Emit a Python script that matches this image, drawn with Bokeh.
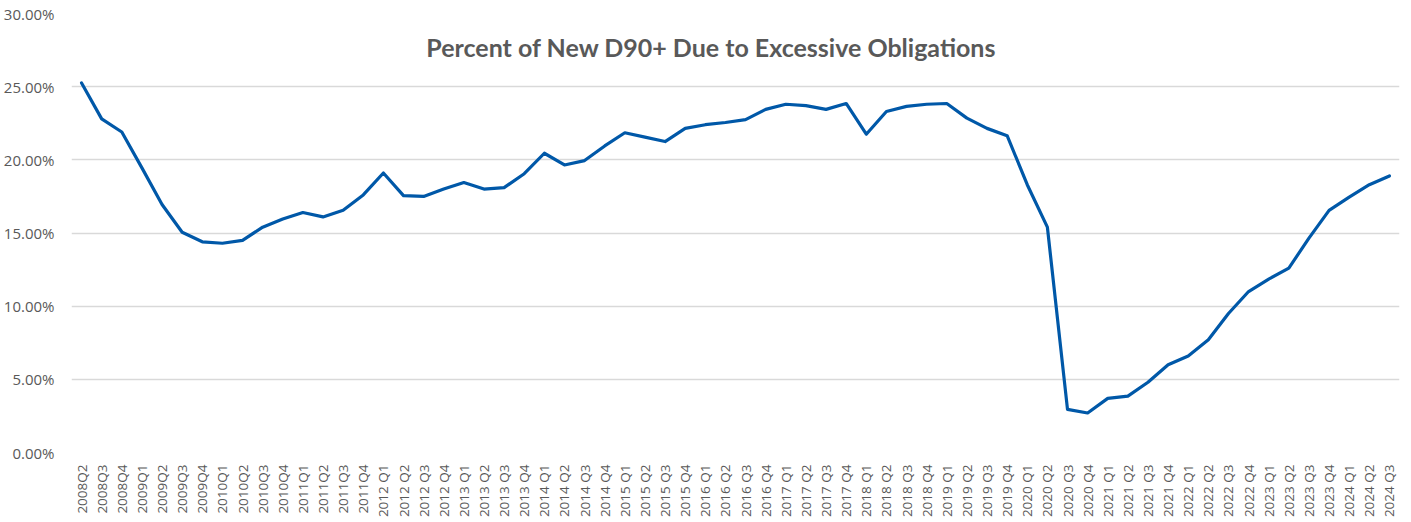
import math
from bokeh.plotting import figure
from bokeh.models import FactorRange, Range1d, PrintfTickFormatter, Label
from bokeh.embed import file_html
from bokeh.resources import INLINE

quarters = [
    "2008Q2", "2008Q3", "2008Q4",
    "2009Q1", "2009Q2", "2009Q3", "2009Q4",
    "2010Q1", "2010Q2", "2010Q3", "2010Q4",
    "2011Q1", "2011Q2", "2011Q3", "2011Q4",
    "2012 Q1", "2012 Q2", "2012 Q3", "2012 Q4",
    "2013 Q1", "2013 Q2", "2013 Q3", "2013 Q4",
    "2014 Q1", "2014 Q2", "2014 Q3", "2014 Q4",
    "2015 Q1", "2015 Q2", "2015 Q3", "2015 Q4",
    "2016 Q1", "2016 Q2", "2016 Q3", "2016 Q4",
    "2017 Q1", "2017 Q2", "2017 Q3", "2017 Q4",
    "2018 Q1", "2018 Q2", "2018 Q3", "2018 Q4",
    "2019 Q1", "2019 Q2", "2019 Q3", "2019 Q4",
    "2020 Q1", "2020 Q2", "2020 Q3", "2020 Q4",
    "2021 Q1", "2021 Q2", "2021 Q3", "2021 Q4",
    "2022 Q1", "2022 Q2", "2022 Q3", "2022 Q4",
    "2023 Q1", "2023 Q2", "2023 Q3", "2023 Q4",
    "2024 Q1", "2024 Q2", "2024 Q3",
]

pct_excessive = [
    25.25, 22.8, 21.9,
    19.45, 16.95, 15.05, 14.4,
    14.3, 14.5, 15.4, 15.95,
    16.4, 16.1, 16.55, 17.6,
    19.1, 17.55, 17.5, 18.0,
    18.45, 18.0, 18.1, 19.05,
    20.45, 19.65, 19.95, 20.95,
    21.85, 21.55, 21.25, 22.15,
    22.4, 22.55, 22.75, 23.45,
    23.8, 23.7, 23.45, 23.85,
    21.75, 23.3, 23.65, 23.8,
    23.85, 22.85, 22.15, 21.65,
    18.3, 15.4, 2.95, 2.7,
    3.7, 3.85, 4.8, 6.0,
    6.6, 7.7, 9.5, 11.0,
    11.85, 12.6, 14.65, 16.55,
    17.45, 18.3, 18.9,
]

y_ticks = [0, 5, 10, 15, 20, 25, 30]
title_text = "Percent of New D90+ Due to Excessive Obligations"

TEXT = "#595959"

p = figure(
    x_range=FactorRange(*quarters, range_padding=0),
    y_range=Range1d(0, 30),
    frame_width=1328, frame_height=439,
    min_border_left=65, min_border_right=2, min_border_top=13, min_border_bottom=0,
    output_backend="svg", toolbar_location=None,
)
p.outline_line_color = None
p.background_fill_color = "white"
p.border_fill_color = "white"

p.line(x=quarters, y=pct_excessive, line_color="#0058A8", line_width=3.2,
       line_join="round", line_cap="round")

p.xgrid.grid_line_color = None
p.ygrid.grid_line_color = "#D9D9D9"
p.ygrid.grid_line_width = 1.3

p.yaxis.ticker = y_ticks
p.yaxis.formatter = PrintfTickFormatter(format="%.2f%%")
for ax in (p.xaxis, p.yaxis):
    ax.axis_line_color = None
    ax.major_tick_line_color = None
    ax.minor_tick_line_color = None
    ax.major_label_text_color = TEXT
    ax.major_label_text_font = "Open Sans"
p.yaxis.major_label_text_font_size = "15px"
p.yaxis.major_label_standoff = 11
p.xaxis.major_label_text_font_size = "13.5px"
p.xaxis.major_label_orientation = math.pi / 2
p.xaxis.major_label_standoff = 6

p.add_layout(Label(x=31.8, y=27.7, text=title_text, text_align="center",
                   text_baseline="middle", text_font="Lato", text_font_style="bold",
                   text_font_size="25px", text_color=TEXT))

open("out.html", "w").write(file_html(p, INLINE))
